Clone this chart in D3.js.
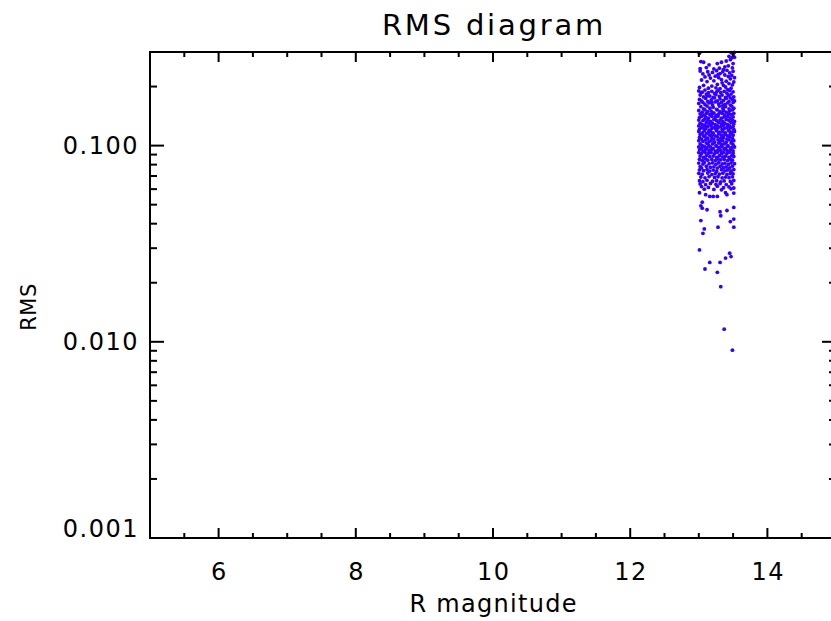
<!DOCTYPE html>
<html>
<head>
<meta charset="utf-8">
<script src="https://cdn.jsdelivr.net/npm/d3@7"></script>
<style>
  html, body { margin: 0; padding: 0; background: #fff; }
  svg { display: block; }
  text { font-family: "DejaVu Sans", sans-serif; fill: #000; }
</style>
</head>
<body>
<script>
const width = 831;
const height = 621;

// tick values
const xMajor = [6, 8, 10, 12, 14];
const xMinor = [5.5, 6.5, 7, 7.5, 8.5, 9, 9.5, 10.5, 11, 11.5, 12.5, 13, 13.5, 14.5];
const yMajor = [0.001, 0.01, 0.1];
const yLabels = ["0.001", "0.010", "0.100"];
const yMinor = [0.002, 0.003, 0.004, 0.005, 0.006, 0.007, 0.008, 0.009,
                0.02, 0.03, 0.04, 0.05, 0.06, 0.07, 0.08, 0.09, 0.2];

// stars: [R magnitude, RMS]
const stars = [
  // upper, sparse
  [13.01,0.296],[13.47,0.298],[13.50,0.292],[13.52,0.299],[13.44,0.285],[13.03,0.268],[13.07,0.266],[13.15,0.258],
  [13.27,0.262],[13.33,0.266],[13.40,0.270],[13.46,0.274],[13.50,0.262],[13.38,0.252],[13.43,0.255],[13.49,0.249],
  [13.11,0.250],[13.30,0.248],[13.22,0.246],[13.36,0.244],[13.52,0.282],[13.48,0.280],[13.02,0.247],
  [13.02,0.240],[13.06,0.232],[13.13,0.238],[13.20,0.236],[13.26,0.241],[13.31,0.233],[13.35,0.238],[13.41,0.242],
  [13.45,0.235],[13.50,0.239],[13.48,0.228],[13.43,0.225],[13.38,0.229],[13.29,0.222],[13.24,0.226],[13.17,0.221],
  [13.09,0.224],[13.04,0.216],[13.12,0.212],[13.22,0.214],[13.33,0.217],[13.40,0.213],[13.46,0.219],[13.51,0.211],
  [13.49,0.204],[13.44,0.207],[13.36,0.203],[13.27,0.205],[13.19,0.201],[13.07,0.203],[13.01,0.198],[13.14,0.196],
  [13.25,0.197],[13.31,0.195],[13.39,0.199],[13.47,0.196],[13.42,0.193],[13.34,0.209],[13.28,0.230],[13.15,0.229],
  [13.52,0.222],
  // 0.15 - 0.19
  [13.00,0.190],[13.05,0.187],[13.09,0.192],[13.14,0.186],[13.19,0.189],[13.23,0.184],[13.28,0.191],[13.32,0.186],
  [13.37,0.189],[13.41,0.185],[13.45,0.191],[13.50,0.188],
  [13.02,0.181],[13.07,0.177],[13.11,0.183],[13.16,0.179],[13.21,0.176],[13.25,0.182],[13.30,0.178],[13.34,0.181],
  [13.39,0.176],[13.43,0.180],[13.47,0.183],[13.51,0.177],
  [13.01,0.172],[13.04,0.169],[13.10,0.174],[13.13,0.168],[13.18,0.171],[13.23,0.175],[13.27,0.169],[13.31,0.173],
  [13.36,0.170],[13.40,0.174],[13.44,0.168],[13.49,0.172],[13.52,0.169],
  [13.00,0.164],[13.06,0.166],[13.09,0.162],[13.15,0.165],[13.20,0.161],[13.24,0.167],[13.29,0.163],[13.33,0.166],
  [13.38,0.162],[13.42,0.165],[13.46,0.161],[13.50,0.166],
  [13.03,0.158],[13.07,0.154],[13.12,0.159],[13.16,0.155],[13.21,0.157],[13.26,0.153],[13.30,0.159],[13.35,0.155],
  [13.39,0.158],[13.44,0.154],[13.48,0.159],[13.51,0.155],
  [13.03,0.186],[13.26,0.188],[13.46,0.175],[13.12,0.179],[13.35,0.160],[13.19,0.166],
  // 0.12 - 0.15, dense
  [13.00,0.151],[13.05,0.148],[13.09,0.152],[13.13,0.149],[13.18,0.150],[13.22,0.147],[13.27,0.152],[13.31,0.149],
  [13.36,0.151],[13.40,0.148],[13.45,0.150],[13.49,0.152],
  [13.02,0.145],[13.07,0.143],[13.11,0.146],[13.16,0.144],[13.20,0.146],[13.25,0.143],[13.29,0.145],[13.34,0.146],
  [13.38,0.143],[13.43,0.145],[13.47,0.144],[13.51,0.146],
  [13.01,0.139],[13.04,0.141],[13.10,0.140],[13.14,0.138],[13.19,0.141],[13.24,0.139],[13.28,0.141],[13.33,0.138],
  [13.37,0.140],[13.42,0.141],[13.46,0.138],[13.50,0.140],
  [13.00,0.135],[13.06,0.134],[13.08,0.136],[13.13,0.135],[13.17,0.133],[13.22,0.136],[13.26,0.134],[13.31,0.135],
  [13.35,0.133],[13.40,0.136],[13.44,0.134],[13.49,0.135],[13.52,0.133],
  [13.02,0.130],[13.05,0.128],[13.11,0.131],[13.15,0.129],[13.20,0.130],[13.24,0.128],[13.29,0.131],[13.33,0.129],
  [13.38,0.130],[13.42,0.128],[13.47,0.131],[13.51,0.129],
  [13.00,0.126],[13.04,0.124],[13.09,0.127],[13.13,0.125],[13.18,0.126],[13.23,0.124],[13.27,0.126],[13.32,0.125],
  [13.36,0.127],[13.41,0.124],[13.45,0.126],[13.50,0.125],
  [13.01,0.121],[13.06,0.123],[13.10,0.122],[13.15,0.120],[13.19,0.122],[13.25,0.121],[13.28,0.123],[13.34,0.121],
  [13.37,0.122],[13.43,0.120],[13.46,0.123],[13.51,0.121],
  // 0.095 - 0.12
  [13.00,0.118],[13.05,0.116],[13.08,0.119],[13.14,0.117],[13.17,0.118],[13.21,0.116],[13.26,0.119],[13.30,0.117],
  [13.35,0.118],[13.39,0.116],[13.44,0.119],[13.48,0.117],[13.52,0.118],
  [13.02,0.114],[13.07,0.112],[13.11,0.115],[13.16,0.113],[13.20,0.114],[13.24,0.112],[13.29,0.115],[13.33,0.113],
  [13.38,0.114],[13.42,0.112],[13.46,0.115],[13.50,0.113],
  [13.01,0.110],[13.04,0.108],[13.09,0.111],[13.13,0.109],[13.19,0.110],[13.22,0.108],[13.27,0.111],[13.32,0.109],
  [13.36,0.110],[13.41,0.108],[13.45,0.111],[13.49,0.109],
  [13.00,0.106],[13.06,0.105],[13.10,0.107],[13.15,0.105],[13.18,0.106],[13.23,0.104],[13.28,0.107],[13.31,0.105],
  [13.35,0.106],[13.40,0.104],[13.44,0.107],[13.48,0.105],[13.51,0.106],
  [13.02,0.102],[13.05,0.100],[13.11,0.103],[13.14,0.101],[13.20,0.102],[13.25,0.100],[13.29,0.103],[13.33,0.101],
  [13.37,0.102],[13.42,0.100],[13.47,0.103],[13.50,0.101],
  [13.00,0.0985],[13.04,0.0970],[13.08,0.0990],[13.12,0.0975],[13.17,0.0985],[13.21,0.0968],[13.26,0.0992],
  [13.30,0.0978],[13.34,0.0986],[13.39,0.0972],[13.43,0.0990],[13.48,0.0976],[13.52,0.0984],
  [13.01,0.0952],[13.06,0.0940],[13.10,0.0958],[13.15,0.0945],[13.19,0.0955],[13.24,0.0938],[13.28,0.0950],
  [13.32,0.0942],[13.37,0.0957],[13.41,0.0944],[13.46,0.0953],[13.50,0.0941],
  // 0.075 - 0.095
  [13.00,0.0922],[13.04,0.0910],[13.09,0.0925],[13.14,0.0915],[13.18,0.0920],[13.23,0.0908],[13.27,0.0924],
  [13.33,0.0912],[13.36,0.0921],[13.41,0.0909],[13.45,0.0926],[13.50,0.0914],
  [13.02,0.0885],[13.07,0.0872],[13.11,0.0890],[13.16,0.0878],[13.21,0.0884],[13.26,0.0870],[13.30,0.0888],
  [13.35,0.0876],[13.39,0.0883],[13.44,0.0871],[13.48,0.0889],[13.51,0.0880],
  [13.01,0.0852],[13.05,0.0840],[13.10,0.0855],[13.13,0.0843],[13.19,0.0850],[13.24,0.0838],[13.28,0.0854],
  [13.32,0.0845],[13.37,0.0851],[13.42,0.0839],[13.46,0.0853],[13.49,0.0842],
  [13.00,0.0815],[13.06,0.0805],[13.08,0.0820],[13.15,0.0808],[13.20,0.0816],[13.25,0.0803],[13.29,0.0818],
  [13.34,0.0806],[13.38,0.0814],[13.43,0.0802],[13.47,0.0817],[13.52,0.0809],
  [13.02,0.0782],[13.04,0.0770],[13.11,0.0785],[13.17,0.0775],[13.22,0.0780],[13.27,0.0768],[13.31,0.0784],
  [13.36,0.0772],[13.40,0.0779],[13.45,0.0769],[13.49,0.0786],
  [13.01,0.0752],[13.07,0.0745],[13.12,0.0756],[13.16,0.0742],[13.21,0.0750],[13.26,0.0740],[13.33,0.0754],
  [13.38,0.0744],[13.42,0.0751],[13.47,0.0741],[13.51,0.0755],
  // 0.06 - 0.075
  [13.00,0.0722],[13.05,0.0715],[13.13,0.0725],[13.19,0.0712],[13.24,0.0720],[13.30,0.0716],[13.35,0.0724],
  [13.41,0.0713],[13.46,0.0721],[13.50,0.0718],
  [13.03,0.0692],[13.09,0.0685],[13.15,0.0695],[13.23,0.0688],[13.28,0.0694],[13.34,0.0684],[13.39,0.0691],
  [13.44,0.0686],[13.49,0.0693],
  [13.01,0.0662],[13.06,0.0655],[13.12,0.0665],[13.20,0.0658],[13.26,0.0663],[13.32,0.0654],[13.37,0.0661],
  [13.46,0.0657],[13.51,0.0664],
  [13.02,0.0638],[13.10,0.0632],[13.17,0.0641],[13.25,0.0635],[13.31,0.0640],[13.40,0.0633],[13.48,0.0639],
  [13.04,0.0618],[13.14,0.0612],[13.27,0.0620],[13.36,0.0610],[13.44,0.0616],[13.51,0.0608],[13.08,0.0600],
  [13.22,0.0598],[13.47,0.0602],[13.33,0.0595],
  // tail
  [13.51,0.0573],[13.39,0.0575],[13.41,0.0562],[13.27,0.0551],[13.21,0.0551],[13.16,0.0551],[13.10,0.0562],
  [13.01,0.0575],[13.05,0.0515],[13.03,0.0493],[13.05,0.0480],[13.12,0.0471],[13.51,0.0484],[13.41,0.0467],
  [13.31,0.0460],[13.32,0.0439],[13.51,0.0422],[13.46,0.0410],[13.03,0.0415],[13.28,0.0384],[13.51,0.0384],
  [13.08,0.0376],[13.06,0.0357],[13.01,0.0294],[13.45,0.0283],[13.47,0.0272],[13.39,0.0267],[13.16,0.0254],
  [13.31,0.0254],[13.09,0.0235],[13.27,0.0226],[13.32,0.0191],[13.37,0.0116],[13.49,0.00906]
];

const plotLeft = 150, plotRight = 836, plotTop = 52, plotBottom = 538;

const x = d3.scaleLinear().domain([5, 15]).range([plotLeft, plotRight]);
const y = d3.scaleLog().domain([0.001, 0.3]).range([plotBottom, plotTop]);

const svg = d3.select("body").append("svg")
  .attr("width", width)
  .attr("height", height);

// points
svg.append("g")
  .selectAll("circle")
  .data(stars)
  .join("circle")
  .attr("cx", d => x(d[0]))
  .attr("cy", d => y(d[1]))
  .attr("r", 1.9)
  .attr("fill", "#3300ff");

// frame
svg.append("rect")
  .attr("x", plotLeft).attr("y", plotTop)
  .attr("width", plotRight - plotLeft).attr("height", plotBottom - plotTop)
  .attr("fill", "none")
  .attr("stroke", "#000")
  .attr("stroke-width", 2);

const ticks = svg.append("g").attr("stroke", "#000").attr("stroke-width", 2);

// x ticks, bottom and top, pointing inward
function xTicks(vals, len) {
  ticks.selectAll(null).data(vals).join("line")
    .attr("x1", d => x(d)).attr("x2", d => x(d))
    .attr("y1", plotBottom).attr("y2", plotBottom - len);
  ticks.selectAll(null).data(vals).join("line")
    .attr("x1", d => x(d)).attr("x2", d => x(d))
    .attr("y1", plotTop).attr("y2", plotTop + len);
}
xTicks(xMajor, 10);
xTicks(xMinor, 5);

// y ticks, left and right
function yTicks(vals, len) {
  ticks.selectAll(null).data(vals).join("line")
    .attr("x1", plotLeft).attr("x2", plotLeft + len)
    .attr("y1", d => y(d)).attr("y2", d => y(d));
  ticks.selectAll(null).data(vals).join("line")
    .attr("x1", plotRight).attr("x2", plotRight - len)
    .attr("y1", d => y(d)).attr("y2", d => y(d));
}
yTicks(yMajor, 14);
yTicks(yMinor, 7);

// x tick labels
svg.append("g").selectAll("text")
  .data(xMajor)
  .join("text")
  .attr("x", d => x(d) + 0.8)
  .attr("y", 580)
  .attr("text-anchor", "middle")
  .attr("font-size", 24)
  .attr("letter-spacing", 1.5)
  .text(d => d);

// y tick labels
svg.append("g").selectAll("text")
  .data(yMajor)
  .join("text")
  .attr("x", 139)
  .attr("y", (d, i) => i === 0 ? y(d) - 1 : y(d) + 8.5)
  .attr("text-anchor", "end")
  .attr("font-size", 24)
  .attr("letter-spacing", 1.5)
  .text((d, i) => yLabels[i]);

// title and axis titles
svg.append("text")
  .attr("x", (plotLeft + plotRight) / 2 + 1)
  .attr("y", 35)
  .attr("text-anchor", "middle")
  .attr("font-size", 29)
  .attr("letter-spacing", 2.8)
  .text("RMS diagram");

svg.append("text")
  .attr("x", (plotLeft + plotRight) / 2 + 0.6)
  .attr("y", 612)
  .attr("text-anchor", "middle")
  .attr("font-size", 24)
  .attr("letter-spacing", 1.3)
  .text("R magnitude");

svg.append("text")
  .attr("transform", "translate(36," + ((plotTop + plotBottom) / 2 + 12) + ") rotate(-90)")
  .attr("text-anchor", "middle")
  .attr("font-size", 21)
  .attr("letter-spacing", 0.5)
  .text("RMS");
</script>
</body>
</html>
